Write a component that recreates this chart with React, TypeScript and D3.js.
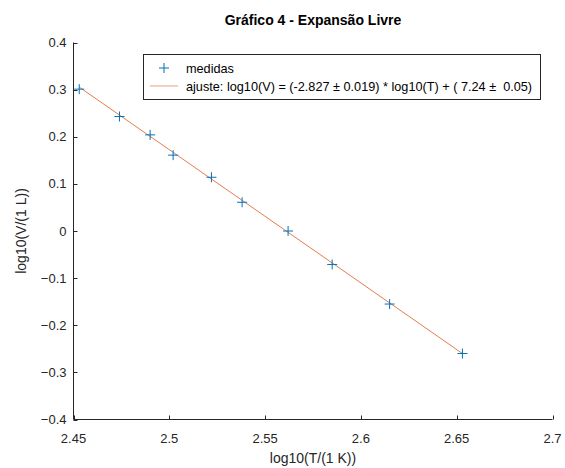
import React from "react";
import * as d3 from "d3";

// log10 of temperature (K) and volume (L) for each measurement
const logT = [2.453, 2.474, 2.49, 2.502, 2.522, 2.538, 2.562, 2.585, 2.615, 2.653];
const logV = [0.301, 0.243, 0.204, 0.161, 0.114, 0.061, 0.0, -0.071, -0.155, -0.26];

// linear fit parameters
const fitSlope = -2.827;
const fitIntercept = 7.24;

const xTicks = [2.45, 2.5, 2.55, 2.6, 2.65, 2.7];
const yTicks = [-0.4, -0.3, -0.2, -0.1, 0, 0.1, 0.2, 0.3, 0.4];

const title = "Gráfico 4 - Expansão Livre";
const xLabel = "log10(T/(1 K))";
const yLabel = "log10(V/(1 L))";
const legendPoints = "medidas";
const legendFit = "ajuste: log10(V) = (-2.827 ± 0.019) * log10(T) + ( 7.24 ±  0.05)";

const W = 565;
const H = 468;
const left = 73.5;
const right = 552.5;
const top = 42.5;
const bottom = 419.5;

const axisColor = "#262626";
const blue = "#0072BD";
const orange = "#D95319";
const font = "'Liberation Sans', Arial, Helvetica, sans-serif";

export default function App() {
  const x = d3.scaleLinear().domain([2.45, 2.7]).range([left, right]);
  const y = d3.scaleLinear().domain([-0.4, 0.4]).range([bottom, top]);

  const fitLine = d3
    .line<number>()
    .x((t) => x(t))
    .y((t) => y(fitSlope * t + fitIntercept));

  const fitX = [logT[0], logT[logT.length - 1]];
  const m = 5; // half size of "+" marker

  const lx0 = 143.5;
  const lx1 = 540.5;
  const ly0 = 54.5;
  const ly1 = 99.5;
  const row1 = 68;
  const row2 = 86;

  return (
    <svg
      width={W}
      height={H}
      style={{ position: "absolute", left: 0, top: 0, background: "#fff" }}
      fontFamily={font}
    >
      <rect x={0} y={0} width={W} height={H} fill="#fff" />

      {/* title */}
      <text
        x={(left + right) / 2}
        y={25}
        textAnchor="middle"
        fontSize={14}
        fontWeight="bold"
        fill="#000"
      >
        {title}
      </text>

      {/* axes */}
      <line x1={left} x2={right} y1={bottom} y2={bottom} stroke={axisColor} strokeWidth={1} />
      <line x1={left} x2={left} y1={top} y2={bottom} stroke={axisColor} strokeWidth={1} />

      {xTicks.map((t) => (
        <g key={"x" + t}>
          <line
            x1={Math.round(x(t)) + 0.5}
            x2={Math.round(x(t)) + 0.5}
            y1={bottom}
            y2={bottom - 4}
            stroke={axisColor}
          />
          <text x={x(t)} y={443} textAnchor="middle" fontSize={13} fill={axisColor}>
            {d3.format("")(t)}
          </text>
        </g>
      ))}
      {yTicks.map((t) => (
        <g key={"y" + t}>
          <line
            x1={left}
            x2={left + 4}
            y1={Math.round(y(t)) + 0.5}
            y2={Math.round(y(t)) + 0.5}
            stroke={axisColor}
          />
          <text x={left - 7} y={y(t) + 4.5} textAnchor="end" fontSize={13} fill={axisColor}>
            {d3.format("")(Math.round(t * 10) / 10)}
          </text>
        </g>
      ))}

      {/* axis labels */}
      <text x={(left + right) / 2} y={463} textAnchor="middle" fontSize={14} fill={axisColor}>
        {xLabel}
      </text>
      <text
        transform={`translate(26,${(top + bottom) / 2}) rotate(-90)`}
        textAnchor="middle"
        fontSize={14}
        fill={axisColor}
      >
        {yLabel}
      </text>

      {/* fit line */}
      <path d={fitLine(fitX) || ""} fill="none" stroke={orange} strokeWidth={0.9} strokeOpacity={0.85} />

      {/* measurements */}
      {logT.map((t, i) => (
        <g key={"p" + i} stroke={blue} strokeWidth={1}>
          <line x1={x(t) - m} x2={x(t) + m} y1={y(logV[i])} y2={y(logV[i])} />
          <line x1={x(t)} x2={x(t)} y1={y(logV[i]) - m} y2={y(logV[i]) + m} />
        </g>
      ))}

      {/* legend */}
      <rect x={lx0} y={ly0} width={lx1 - lx0} height={ly1 - ly0} fill="#fff" stroke={axisColor} strokeWidth={1} />
      <g stroke={blue} strokeWidth={1}>
        <line x1={164 - m} x2={164 + m} y1={row1} y2={row1} />
        <line x1={164} x2={164} y1={row1 - m} y2={row1 + m} />
      </g>
      <line x1={150} x2={178} y1={row2} y2={row2} stroke={orange} strokeWidth={1} strokeOpacity={0.55} />
      <text x={186} y={row1 + 4.5} fontSize={12.7} fill="#000" style={{ whiteSpace: "pre" }}>
        {legendPoints}
      </text>
      <text x={186} y={row2 + 4.5} fontSize={12.7} fill="#000" style={{ whiteSpace: "pre" }}>
        {legendFit}
      </text>
    </svg>
  );
}
